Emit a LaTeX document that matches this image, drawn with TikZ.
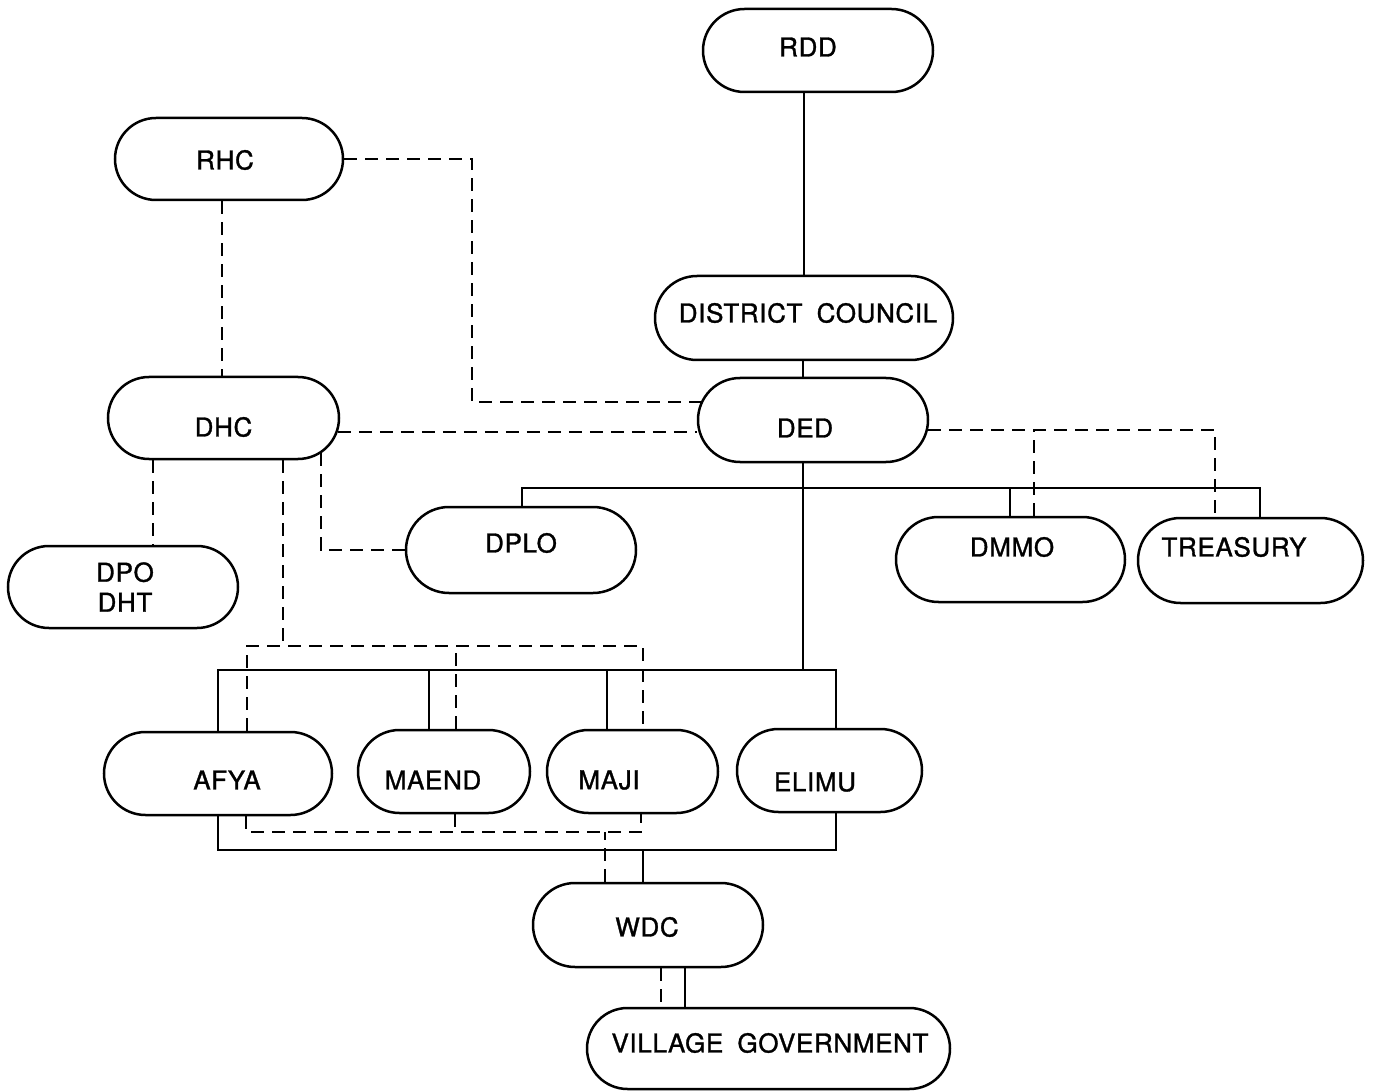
\documentclass[tikz,border=0pt]{standalone}
\usepackage{fontspec}
\setmainfont{TeX Gyre Heros}
\newfontfamily\orgfamily{TeX Gyre Heros}[FakeBold=1.2,LetterSpace=2.5,WordSpace=1.8]
\usetikzlibrary{shapes.misc}
\newcommand\orgfont{\orgfamily\fontsize{26}{30}\selectfont}
\begin{document}
\begin{tikzpicture}[x=1pt,y=-1pt,
  org/.style={rounded rectangle, draw, line width=2.5pt, inner sep=0pt},
  lbl/.style={font=\orgfont, align=center, inner sep=0pt},
  sol/.style={line width=2pt},
  dsh/.style={line width=2pt, dash pattern=on 13pt off 8pt}]
\useasboundingbox (0,0) rectangle (1377,1091);
\fill[white] (0,0) rectangle (1377,1091);

% ---- boxes ----
\node[org,minimum width=230pt,minimum height=83pt,label={[lbl,xshift=-10pt,yshift=3.5pt]center:RDD}] (rdd) at (818,50.5) {};
\node[org,minimum width=228pt,minimum height=82pt,label={[lbl,xshift=-4pt,yshift=-1pt]center:RHC}] (rhc) at (229,159) {};
\node[org,minimum width=298pt,minimum height=84pt,label={[lbl,xshift=4pt,yshift=5pt]center:DISTRICT COUNCIL}] (dc) at (804,318) {};
\node[org,minimum width=230pt,minimum height=84pt,label={[lbl,xshift=-8pt,yshift=-8pt]center:DED}] (ded) at (813,420) {};
\node[org,minimum width=231pt,minimum height=82pt,label={[lbl,xshift=0pt,yshift=-9pt]center:DHC}] (dhc) at (223.5,418) {};
\node[org,minimum width=230pt,minimum height=82pt,label={[lbl,xshift=2pt,yshift=0pt]center:DPO\\DHT}] (dpo) at (123,587) {};
\node[org,minimum width=230pt,minimum height=86pt,label={[lbl,xshift=0pt,yshift=7pt]center:DPLO}] (dplo) at (521,550) {};
\node[org,minimum width=229pt,minimum height=85pt,label={[lbl,xshift=1.5pt,yshift=12.5pt]center:DMMO}] (dmmo) at (1010.5,559.5) {};
\node[org,minimum width=225pt,minimum height=85pt,label={[lbl,xshift=-16.5pt,yshift=13.5pt]center:TREASURY}] (treas) at (1250.5,560.5) {};
\node[org,minimum width=228pt,minimum height=83pt,label={[lbl,xshift=9pt,yshift=-6.5pt]center:AFYA}] (afya) at (218,773.5) {};
\node[org,minimum width=172pt,minimum height=83pt,label={[lbl,xshift=-11pt,yshift=-8.5pt]center:MAEND}] (maend) at (444,771.5) {};
\node[org,minimum width=171pt,minimum height=83pt,label={[lbl,xshift=-23.5pt,yshift=-8.5pt]center:MAJI}] (maji) at (632.5,771.5) {};
\node[org,minimum width=185pt,minimum height=83pt,label={[lbl,xshift=-14.5pt,yshift=-11.5pt]center:ELIMU}] (elimu) at (829.5,770.5) {};
\node[org,minimum width=230pt,minimum height=84pt,label={[lbl,xshift=-1pt,yshift=-2pt]center:WDC}] (wdc) at (648,925) {};
\node[org,minimum width=363pt,minimum height=81pt,label={[lbl,xshift=1.5pt,yshift=5.5pt]center:VILLAGE GOVERNMENT}] (vg) at (768.5,1048.5) {};

% ---- guide columns and rows for the connector runs ----
\foreach \c in {153,218,222,246,247,283,429,455,456,472,522,605,607,641,643,661,685,803,804,836,1010,1034,1215,1260}
  \coordinate (k\c) at (\c,0);
\foreach \r in {488,646,670,832,850}
  \coordinate (r\r) at (0,\r);

% ---- solid lines: line authority ----
\draw[sol] (rdd.south -| k804) -- (dc.north -| k804);
\draw[sol] (dc.south -| k803) -- (ded.north -| k803);
\draw[sol] (ded.south -| k803) -- (k803 |- r670);
\draw[sol] (dplo.north -| k522) |- (r488 -| k1260) -- (treas.north -| k1260);
\draw[sol] (dmmo.north -| k1010) -- (k1010 |- r488);
\draw[sol] (afya.north -| k218) |- (r670 -| k836) -- (elimu.north -| k836);
\draw[sol] (maend.north -| k429) -- (k429 |- r670);
\draw[sol] (maji.north -| k607) -- (k607 |- r670);
\draw[sol] (afya.south -| k218) |- (r850 -| k836) -- (elimu.south -| k836);
\draw[sol] (wdc.north -| k643) -- (k643 |- r850);
\draw[sol] (wdc.south -| k685) -- (vg.north -| k685);

% ---- dashed lines: technical links ----
\draw[dsh] (rhc.east) -| (k472 |- ded.171) -- (ded.171);
\draw[dsh] (rhc.south -| k222) -- (dhc.north -| k222);
\draw[dsh] (dhc.-7) -- (ded.west |- dhc.-7);
\draw[dsh] (ded.-5) -| (treas.north -| k1215);
\draw[dsh] (dmmo.north -| k1034) -- (k1034 |- ded.-5);
\draw[dsh] (dhc.south -| k153) -- (dpo.north -| k153);
\draw[dsh] (dhc.-20) |- (dplo.west);
\draw[dsh] (dhc.south -| k283) -- (k283 |- r646);
\draw[dsh] (afya.north -| k247) |- (r646 -| k643) -- (maji.north -| k643);
\draw[dsh] (maend.north -| k456) -- (k456 |- r646);
\draw[dsh] (afya.south -| k246) |- (r832 -| k641) -- (maji.south -| k641);
\draw[dsh] (maend.south -| k455) -- (k455 |- r832);
\draw[dsh] (wdc.north -| k605) -- (k605 |- r832);
\draw[dsh] (wdc.south -| k661) -- (vg.north -| k661);
\end{tikzpicture}
\end{document}
